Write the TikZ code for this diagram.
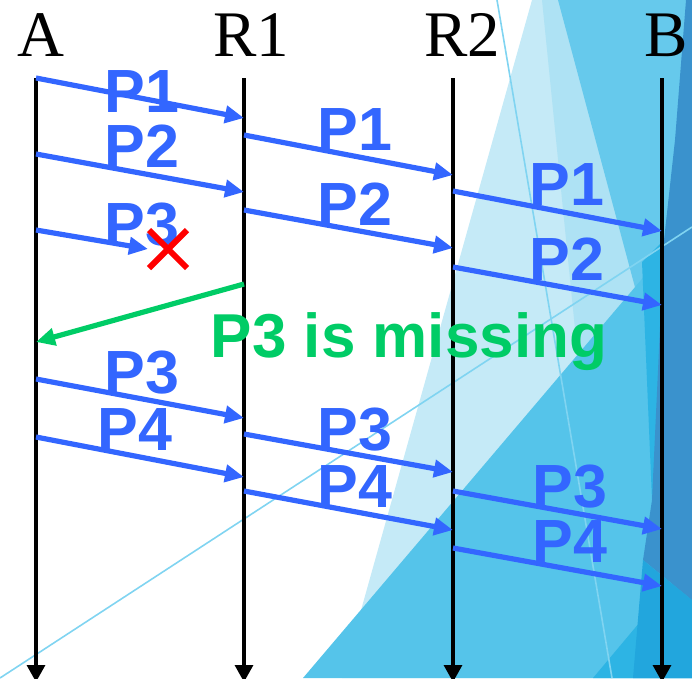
\documentclass[tikz,border=0pt]{standalone}
\usepackage{fontspec}
\setmainfont{Liberation Serif}
\setsansfont{Liberation Sans}
\usetikzlibrary{arrows.meta}

\definecolor{pktblue}{HTML}{3366FF}
\definecolor{lossgreen}{HTML}{00CC66}
\definecolor{bgA}{HTML}{C5EAF7}
\definecolor{bgB}{HTML}{AEE2F4}
\definecolor{bgC}{HTML}{66C9EC}
\definecolor{bgD}{HTML}{55C4EA}
\definecolor{bgE}{HTML}{2DB4E4}
\definecolor{bgF}{HTML}{3A92CD}
\definecolor{bgG}{HTML}{22A6DD}
\definecolor{bgline}{HTML}{80D4F1}

\tikzset{
  life/.style={line width=3.2pt,-{Triangle[length=17pt,width=18pt]}},
  pkt/.style={line width=5.2pt,pktblue,-{Triangle[length=19pt,width=17pt]}},
  nack/.style={line width=5.2pt,lossgreen,-{Triangle[length=19pt,width=17pt]}},
  host/.style={anchor=base,font=\fontsize{65}{70}\selectfont},
  plab/.style={anchor=base,text=pktblue,font=\fontsize{61}{64}\selectfont\sffamily\bfseries},
}

\begin{document}
\begin{tikzpicture}[x=1pt,y=-1pt]
\useasboundingbox (0,0) rectangle (692,678);
% background facets
\fill[bgA] (532,0)--(692,0)--(692,678)--(342,678)--cycle;
\fill[bgB] (542,0)--(692,0)--(692,678)--(610,678)--cycle;
\fill[bgC] (558,0)--(692,0)--(692,500)--cycle;
\fill[bgD] (303,678)--(692,220)--(692,678)--cycle;
\fill[bgE] (642,262)--(664,240)--(664,500)--(652,500)--cycle;
\fill[bgE] (593,678)--(692,560)--(692,678)--cycle;
\fill[bgF] (686,0)--(692,0)--(692,600)--(643,560)--(652,500)--(664,240)--(675,140)--cycle;
\fill[bgG] (643,560)--(692,600)--(692,678)--(633,678)--cycle;
\draw[bgline,line width=1.6pt] (0,678)--(692,227);
\draw[bgline,line width=1.6pt] (497,0)--(612,678);

% hosts and lifelines
\node[host] (lA) at (41,56) {A};
\node[host] (lR1) at (251,56) {R1};
\node[host] (lR2) at (462,56) {R2};
\node[host] (lB) at (666,56) {B};
\foreach \n/\x in {A/36,R1/244,R2/453,B/662}{
  \coordinate (\n-top) at (\x,78);
  \coordinate (\n-bot) at (\x,682);
  \draw[life] (\n-top) -- (\n-bot);
}

% first round
\draw[pkt] (A-top |- 0,78) -- (R1-top |- 0,118);
\draw[pkt] (A-top |- 0,154) -- (R1-top |- 0,192);
\coordinate (drop) at (168,249);
\draw[pkt] (A-top |- 0,230) -- ([xshift=-20pt]drop);
\draw[pkt] (R1-top |- 0,135) -- (R2-top |- 0,175);
\draw[pkt] (R1-top |- 0,210) -- (R2-top |- 0,248);
\draw[pkt] (R2-top |- 0,191) -- (B-top |- 0,231);
\draw[pkt] (R2-top |- 0,267) -- (B-top |- 0,305);
\node[plab] (a1) at (142,112) {P1};
\node[plab] (a2) at (142,167) {P2};
\node[plab] (a3) at (142,245) {P3};
\node[plab] (b1) at (355,150) {P1};
\node[plab] (b2) at (355,225) {P2};
\node[plab] (c1) at (567,205) {P1};
\node[plab] (c2) at (567,280) {P2};
\draw[red,line width=6pt] ([shift={(-19,-19)}]drop) -- ([shift={(19,19)}]drop)
  ([shift={(-19,19)}]drop) -- ([shift={(19,-19)}]drop);

% loss report
\draw[nack] (R1-top |- 0,284) -- (A-top |- 0,342);
\node[anchor=base,text=lossgreen,font=\fontsize{62}{64}\selectfont\sffamily\bfseries] (miss) at (409,357) {P3 is missing};

% second round
\draw[pkt] (A-top |- 0,379) -- (R1-top |- 0,418);
\draw[pkt] (A-top |- 0,437) -- (R1-top |- 0,477);
\draw[pkt] (R1-top |- 0,434) -- (R2-top |- 0,472);
\draw[pkt] (R1-top |- 0,491) -- (R2-top |- 0,530);
\draw[pkt] (R2-top |- 0,491) -- (B-top |- 0,529);
\draw[pkt] (R2-top |- 0,548) -- (B-top |- 0,586);
\node[plab] (a4) at (142,393) {P3};
\node[plab] (a5) at (135,450) {P4};
\node[plab] (b3) at (355,450) {P3};
\node[plab] (b4) at (355,507) {P4};
\node[plab] (c3) at (570,507) {P3};
\node[plab] (c4) at (570,562) {P4};
\end{tikzpicture}
\end{document}
